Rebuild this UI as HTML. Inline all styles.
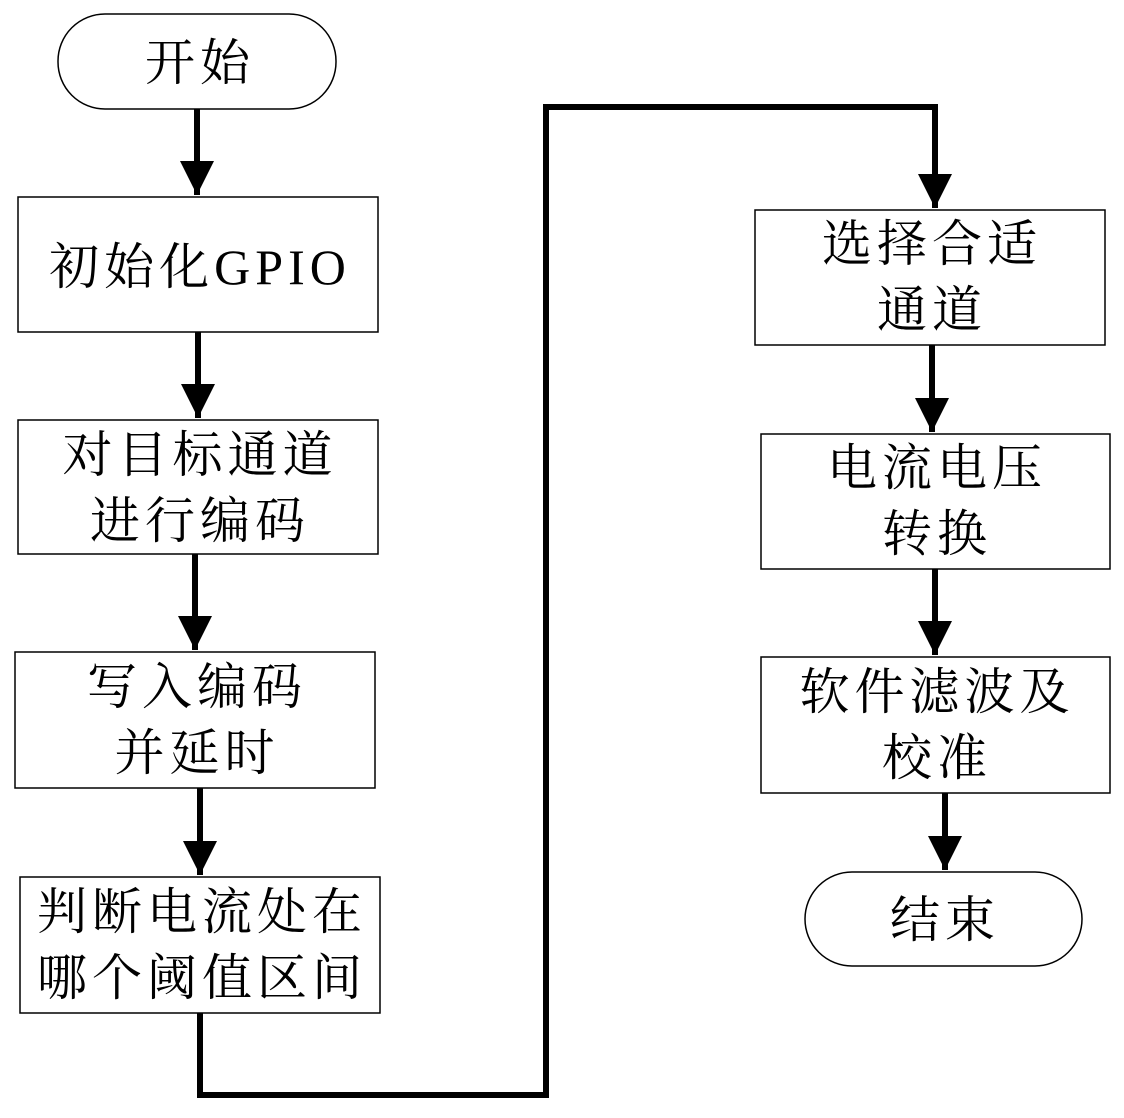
<!DOCTYPE html>
<html><head><meta charset="utf-8"><style>
html,body{margin:0;padding:0;background:#fff;}
svg{display:block}
text{font-family:"Liberation Serif","Noto Serif CJK SC",serif;font-size:50px;fill:#000;text-anchor:middle;letter-spacing:5px}
</style></head><body>
<svg width="1124" height="1118" viewBox="0 0 1124 1118" xmlns="http://www.w3.org/2000/svg">
<defs>
<marker id="a" markerUnits="userSpaceOnUse" markerWidth="34" markerHeight="42" refX="34" refY="17" orient="auto">
<path d="M0,0 L34,17 L0,34 Z" fill="#000"/>
</marker>
</defs>
<g fill="none" stroke="#000" stroke-width="1.5">
<rect x="58" y="14" width="278" height="95" rx="47" ry="47"/>
<rect x="18" y="197" width="360" height="135"/>
<rect x="18" y="420" width="360" height="134"/>
<rect x="15" y="652" width="360" height="136"/>
<rect x="20" y="877" width="360" height="136"/>
<rect x="755" y="210" width="350" height="135"/>
<rect x="761" y="434" width="349" height="135"/>
<rect x="761" y="657" width="349" height="136"/>
<rect x="805" y="872" width="277" height="94" rx="47" ry="47"/>
</g>
<g fill="none" stroke="#000" stroke-width="6">
<line x1="197" y1="109" x2="197" y2="195" marker-end="url(#a)"/>
<line x1="198" y1="332" x2="198" y2="418" marker-end="url(#a)"/>
<line x1="195" y1="554" x2="195" y2="650" marker-end="url(#a)"/>
<line x1="200" y1="788" x2="200" y2="875" marker-end="url(#a)"/>
<polyline points="200,1013 200,1095 546,1095 546,107 935,107 935,208" marker-end="url(#a)"/>
<line x1="932" y1="345" x2="932" y2="432" marker-end="url(#a)"/>
<line x1="935" y1="569" x2="935" y2="655" marker-end="url(#a)"/>
<line x1="945" y1="793" x2="945" y2="870" marker-end="url(#a)"/>
</g>
<text x="200" y="80">开始</text>
<text x="200" y="284">初始化GPIO</text>
<text x="200" y="472">对目标通道</text>
<text x="200" y="538">进行编码</text>
<text x="197" y="704">写入编码</text>
<text x="197" y="770">并延时</text>
<text x="202" y="929">判断电流处在</text>
<text x="202" y="995">哪个阈值区间</text>
<text x="932" y="261">选择合适</text>
<text x="932" y="327">通道</text>
<text x="937" y="485">电流电压</text>
<text x="937" y="551">转换</text>
<text x="937" y="709">软件滤波及</text>
<text x="937" y="775">校准</text>
<text x="945" y="937">结束</text>
</svg>
</body></html>
